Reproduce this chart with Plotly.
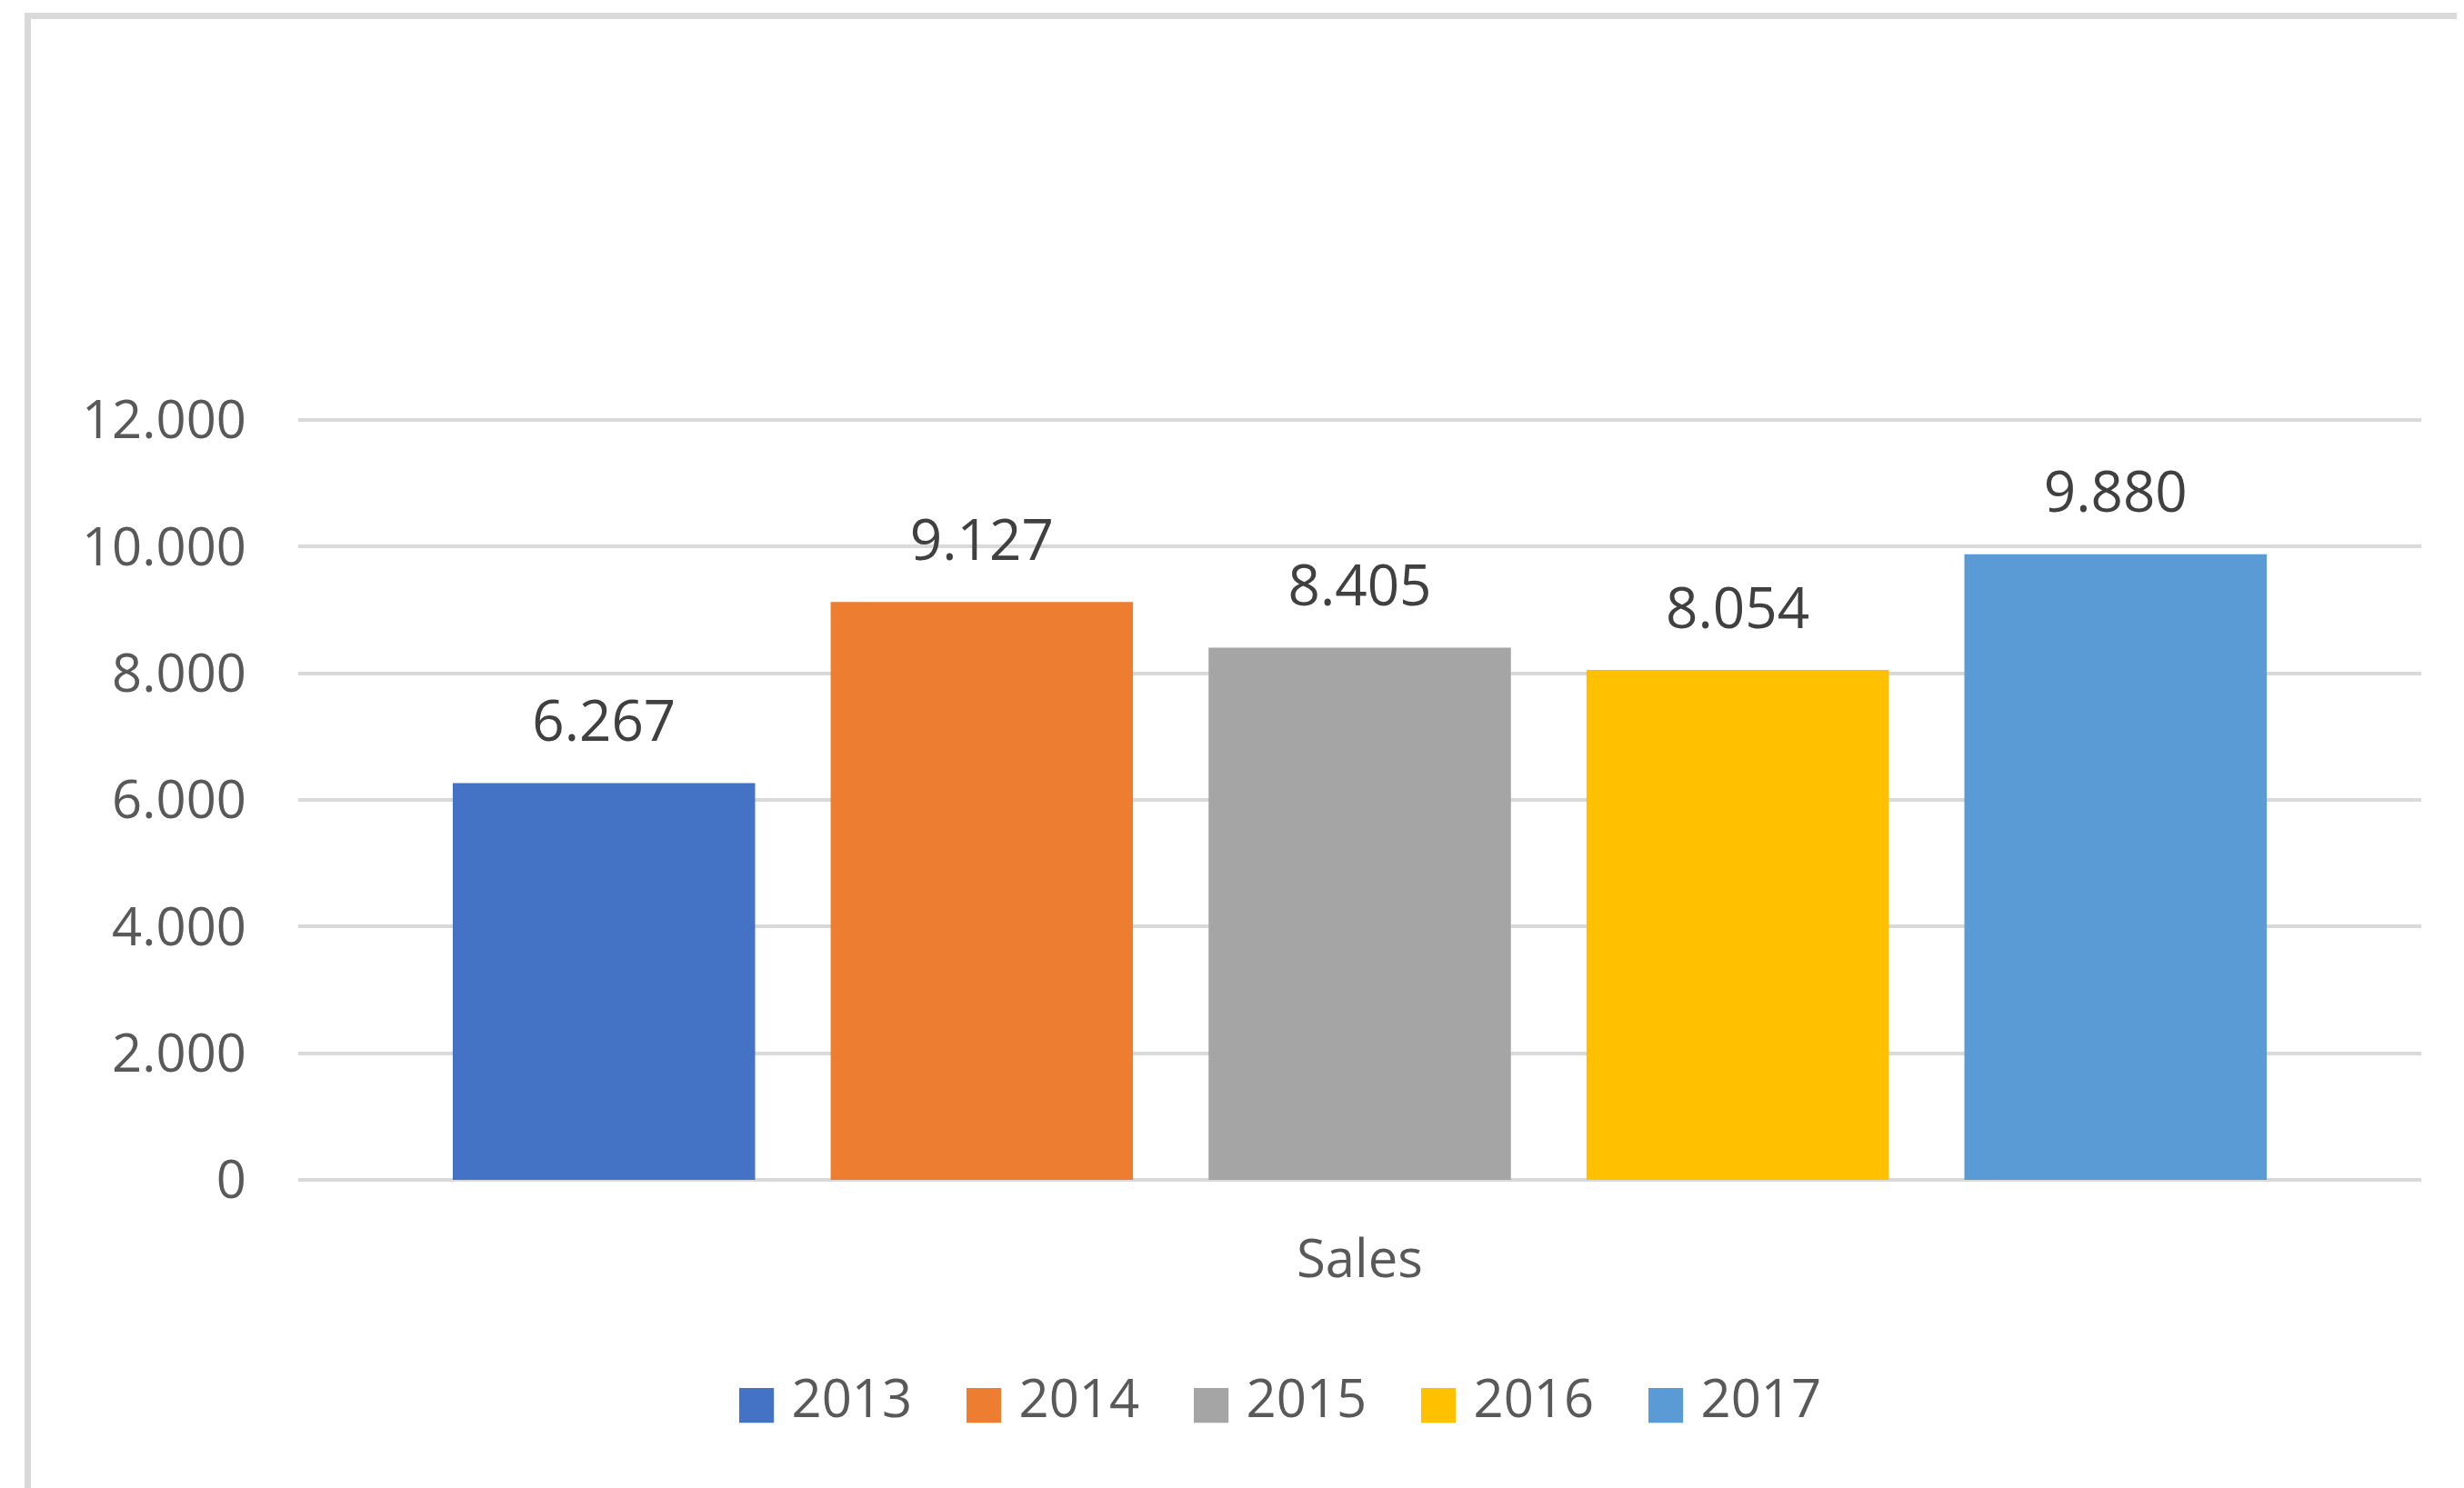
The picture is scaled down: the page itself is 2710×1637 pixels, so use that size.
import plotly.graph_objects as go

years = ["2013", "2014", "2015", "2016", "2017"]
sales = [6267, 9127, 8405, 8054, 9880]
category = ["Sales"]
colors = ["#4472C4", "#ED7D31", "#A5A5A5", "#FFC000", "#5B9BD5"]
y_ticks = [0, 2000, 4000, 6000, 8000, 10000, 12000]

FONT = "Open Sans"
TXT = "#595959"

fig = go.Figure()
# bars
for yr, v, c in zip(years, sales, colors):
    fig.add_trace(go.Bar(
        x=category, y=[v], name=yr, marker=dict(color=c, line=dict(width=0)),
        offsetgroup=yr, hoverinfo="skip", showlegend=False,
    ))
# legend entries (big square glyph as the key)
for yr, c in zip(years, colors):
    fig.add_trace(go.Bar(
        x=category, y=[None], offsetgroup=yr, hoverinfo="skip", showlegend=True,
        name=f"<span style='color:{c};font-family:DejaVu Sans;font-size:50px'>■</span> {yr}",
        marker=dict(color="rgba(0,0,0,0)", line=dict(width=0)),
    ))
# data labels
for yr, v in zip(years, sales):
    fig.add_trace(go.Scatter(
        x=category, y=[v], mode="markers+text", texttemplate="%{y:,}",
        textposition="top center", marker=dict(size=48, opacity=0),
        textfont=dict(family=FONT, size=62, color="#404040"),
        offsetgroup=yr, showlegend=False, hoverinfo="skip", cliponaxis=False,
    ))

fig.update_layout(
    width=2710, height=1637,
    margin=dict(l=320, r=55, t=450, b=347),
    paper_bgcolor="white", plot_bgcolor="white",
    barmode="group", bargap=0.11, bargroupgap=0.2,
    scattermode="group", scattergap=0.11,
    separators=",.",
    font=dict(family=FONT, size=58, color=TXT),
    showlegend=True,
    legend=dict(orientation="h", x=0.1885, xanchor="left", y=-0.2845, yanchor="middle",
                font=dict(family=FONT, size=58, color=TXT), entrywidth=205,
                traceorder="normal", bgcolor="rgba(0,0,0,0)"),
    xaxis=dict(type="category", showgrid=False, ticks="", showline=False,
               tickfont=dict(family=FONT, size=58, color=TXT), ticklabelstandoff=48),
    yaxis=dict(range=[0, 12060], tickvals=y_ticks, tickformat=",", showgrid=True,
               gridcolor="#D9D9D9", gridwidth=4, zeroline=True, zerolinecolor="#D9D9D9",
               zerolinewidth=4, showline=False, ticks="",
               tickfont=dict(family=FONT, size=58, color=TXT), ticklabelstandoff=56),
    shapes=[dict(type="rect", xref="paper", yref="paper",
                 x0=-0.1274, x1=1.2, y0=-0.6, y1=1.5244,
                 line=dict(color="#D9D9D9", width=7), fillcolor="rgba(0,0,0,0)", layer="below")],
)

fig.write_html("out.html")
